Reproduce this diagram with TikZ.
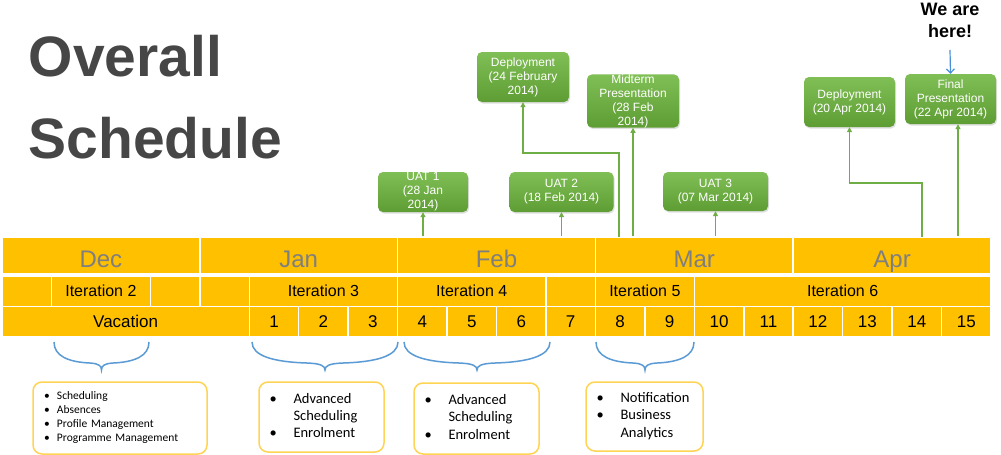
\documentclass[tikz,border=0pt]{standalone}
\usepackage{fontspec}
\setmainfont{Liberation Sans}
\newfontfamily\bodyfont{Carlito}
\usetikzlibrary{arrows.meta,calc,shadows}
\definecolor{gold}{HTML}{FFC000}
\definecolor{featline}{HTML}{FFD454}
\definecolor{monthgray}{HTML}{7F7F7F}
\definecolor{titlegray}{HTML}{464646}
\definecolor{grn}{HTML}{6FAE45}
\definecolor{grntop}{HTML}{80BF55}
\definecolor{grnbot}{HTML}{5E9D34}
\definecolor{bracecol}{HTML}{5B9BD5}
\definecolor{herecol}{HTML}{4A90D9}
\def\colw{49.45}

\begin{document}
\begin{tikzpicture}[x=1pt,y=-1pt,
  cell/.style={fill=gold,draw=white,line width=1.5pt,inner sep=0pt,minimum width={\colw*1pt}},
  month/.style={cell,minimum width={4*\colw*1pt},minimum height=37pt,text height=27pt,text depth=4pt,text=monthgray,font=\fontsize{24}{28}\selectfont},
  iter/.style={cell,minimum height=30.5pt,font=\fontsize{16}{19}\selectfont},
  week/.style={cell,minimum height=30.5pt,font=\fontsize{17}{20}\selectfont},
  mile/.style={rectangle,rounded corners=5pt,top color=grntop,bottom color=grnbot,text=white,align=center,inner sep=0pt,
    font=\fontsize{12}{14}\selectfont,drop shadow={opacity=0.25,shadow xshift=1pt,shadow yshift=-1.5pt}},
  conn/.style={draw=grn,line width=1.3pt,-{Triangle[length=5pt,width=5pt]}},
  feat/.style={draw=featline,line width=1.5pt,rounded corners=9pt,fill=white,inner ysep=0pt,align=left},
  brc/.style={draw=bracecol,line width=1.5pt},
  title/.style={anchor=base west,inner sep=0pt,text=titlegray,font=\bfseries\fontsize{57}{60}\selectfont},
  here/.style={align=center,inner sep=0pt,font=\bfseries\fontsize{18}{22}\selectfont},
  point/.style={draw=herecol,line width=1.2pt,-{Straight Barb[length=4pt,width=8pt]}}]
\useasboundingbox[fill=white] (0,0) rectangle (1001,455);

\node[title] (t1) at (28.5,76) {Overall};
\node[title] (t2) at (28.5,158) {Schedule};

\foreach \m [count=\k from 0] in {Dec,Jan,Feb,Mar,Apr}
  \node[month] (m\k) at ({2+(4*\k+2)*\colw},255.5) {\m};
\foreach \a/\b/\t/\n in {0/1/{}/r0,1/3/Iteration 2/it2,3/4/{}/r3,4/5/{}/r4,5/8/Iteration 3/it3,
    8/11/Iteration 4/it4,11/12/{}/r11,12/14/Iteration 5/it5,14/20/Iteration 6/it6}
  \node[iter,minimum width={(\b-\a)*\colw*1pt}] (\n) at ({2+(\a+\b)/2*\colw},291.25) {\t};
\node[week,minimum width={5*\colw*1pt}] (vac) at ({2+2.5*\colw},321.75) {Vacation};
\foreach \i in {1,...,15}
  \node[week] (w\i) at ({2+(\i+4.5)*\colw},321.75) {\i};

\node[mile,minimum width=90pt,minimum height=40pt] (uat1) at (423,192) {UAT 1\\(28 Jan\\2014)};
\node[mile,minimum width=92pt,minimum height=50pt] (dep1) at (523,77) {Deployment\\(24 February\\2014)};
\node[mile,minimum width=92pt,minimum height=50pt] (mid) at (633,101) {Midterm\\Presentation\\(28 Feb\\2014)};
\node[mile,minimum width=104pt,minimum height=40pt] (uat2) at (561.5,192) {UAT 2\\(18 Feb 2014)};
\node[mile,minimum width=105pt,minimum height=39pt] (uat3) at (715.5,191.5) {UAT 3\\(07 Mar 2014)};
\node[mile,minimum width=91pt,minimum height=50pt] (dep2) at (849.5,102) {Deployment\\(20 Apr 2014)};
\node[mile,minimum width=91pt,minimum height=50pt] (fin) at (950.5,99) {Final\\Presentation\\(22 Apr 2014)};

\coordinate (d1) at (619,237);
\coordinate (d2) at (922,237);
\draw[conn] (uat1.south |- m2.north) -- (uat1.south);
\draw[conn] (uat2.south |- m2.north) -- (uat2.south);
\draw[conn] (d1) -- ++(0,-84) -| (dep1.south);
\draw[conn] (mid.south |- m3.north) -- (mid.south);
\draw[conn] (uat3.south |- m3.north) -- (uat3.south);
\draw[conn] (d2) -- ++(0,-54) -| (dep2.south);
\draw[conn] ([xshift=7.5pt]fin.south |- m4.north) -- ([xshift=7.5pt]fin.south);

\node[here] (we) at (950,20.5) {We are\\here!};
\draw[point] ([yshift=-12pt]we.south) -- (fin.north);

\foreach \a/\b in {54/149,252/398,404/550,596/694}{
  \pgfmathsetmacro\h{(\b-\a)/2}
  \pgfmathsetmacro\c{(\a+\b)/2}
  \draw[brc] (\a,342) .. controls (\a,356) and ({\a+0.3*\h},362) .. ({\c-0.25*\h},363)
    .. controls ({\c-0.05*\h},363.5) and (\c,366) .. (\c,370)
    .. controls (\c,366) and ({\c+0.05*\h},363.5) .. ({\c+0.25*\h},363)
    .. controls ({\b-0.3*\h},362) and (\b,356) .. (\b,342);
}

\node[feat,inner xsep=11pt,text width=152pt,minimum height=72pt,font=\bodyfont\fontsize{11.5}{13.9}\selectfont] (f1) at (120,418)
  {\begin{tabular}{@{}p{13pt}@{}l@{}}\textbullet&Scheduling\\\textbullet&Absences\\\textbullet&Profile Management\\\textbullet&Programme Management\end{tabular}};
\node[feat,inner xsep=10.5pt,text width=104pt,minimum height=70pt,font=\bodyfont\fontsize{14.5}{17.3}\selectfont] (f2) at (321.5,417)
  {\begin{tabular}{@{}p{24pt}@{}l@{}}\textbullet&Advanced\\&Scheduling\\\textbullet&Enrolment\end{tabular}};
\node[feat,inner xsep=10.5pt,text width=104pt,minimum height=71pt,font=\bodyfont\fontsize{14.5}{17.3}\selectfont] (f3) at (476.5,418.5)
  {\begin{tabular}{@{}p{24pt}@{}l@{}}\textbullet&Advanced\\&Scheduling\\\textbullet&Enrolment\end{tabular}};
\node[feat,inner xsep=10.5pt,text width=96pt,minimum height=69pt,font=\bodyfont\fontsize{14.5}{17.3}\selectfont] (f4) at (644.5,416.5)
  {\begin{tabular}{@{}p{24pt}@{}l@{}}\textbullet&Notification\\\textbullet&Business\\&Analytics\end{tabular}};
\end{tikzpicture}
\end{document}
